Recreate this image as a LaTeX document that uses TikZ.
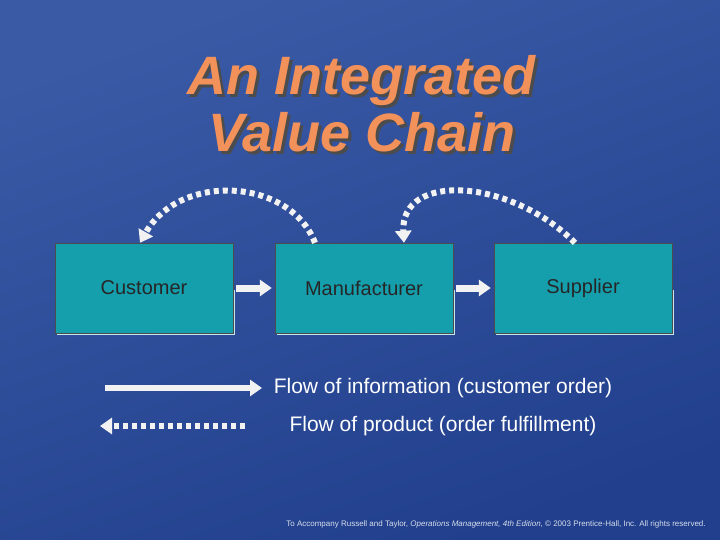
\documentclass[tikz,border=0pt]{standalone}
\usepackage{fontspec}
\setmainfont{Liberation Sans}
\usetikzlibrary{arrows.meta}
\definecolor{bgtop}{HTML}{3A5AA6}
\definecolor{bgbot}{HTML}{213F8C}
\definecolor{boxfill}{HTML}{159FAD}
\definecolor{titleor}{HTML}{F2925A}
\tikzset{
  stage/.style={rectangle, draw=black!70, fill=boxfill, minimum width=178pt, minimum height=90pt, font=\fontsize{20}{24}\selectfont, text=black!85},
  info/.style={draw=white!95!black, line width=6pt, -{Triangle[length=12pt,width=16pt]}},
  product/.style={draw=white!95!black, line width=6pt, dash pattern=on 5pt off 4pt, -{Triangle[length=12pt,width=16pt]}},
  legend/.style={font=\fontsize{21}{24}\selectfont, text=white}
}
\begin{document}
\begin{tikzpicture}[x=1pt, y=-1pt]
  \shade[top color=bgtop, bottom color=bgbot, shading angle=20] (0,0) rectangle (720,540);
  \useasboundingbox (0,0) rectangle (720,540);
  % title
  \foreach \dx/\col in {3/black!70, 0/titleor}{
    \node[font=\fontsize{54}{57}\selectfont\bfseries\itshape, text=\col, align=center] at (362+\dx,104+\dx) {An Integrated\\Value Chain};
  }
  % stages
  \foreach \name/\x/\txt in {cust/144/Customer, manu/364/Manufacturer, supp/583/Supplier}{
    \fill[white!75!boxfill] (\x-87,290) rectangle (\x+91,335);
    \node[stage] (\name) at (\x,288) {\txt};
  }
  \draw[info, line width=7pt] ([xshift=3pt]cust.east) -- ([xshift=-3pt]manu.west);
  \draw[info, line width=7pt] ([xshift=3pt]manu.east) -- ([xshift=-3pt]supp.west);
  \draw[product] ([xshift=-49pt]manu.north) .. controls (290,178) and (180,172) .. ([xshift=-4pt]cust.north);
  \draw[product] ([xshift=-8pt]supp.north) .. controls (510,178) and (400,172) .. ([xshift=40pt]manu.north);
  % legend
  \coordinate (i0) at (105,388); \coordinate (i1) at (262,388);
  \coordinate (p0) at (245,426); \coordinate (p1) at (100,426);
  \draw[info] (i0) -- (i1);
  \draw[product] (p0) -- (p1);
  \node[legend] (infotxt) at (443,388) {Flow of information (customer order)};
  \node[legend] (prodtxt) at (443,426) {Flow of product (order fulfillment)};
  \node[font=\fontsize{8}{9}\selectfont, text=white!80!bgtop] (note) at (496,524) {To Accompany Russell and Taylor, \textit{Operations Management, 4th Edition}, \copyright{} 2003 Prentice-Hall, Inc. All rights reserved.};
\end{tikzpicture}
\end{document}
